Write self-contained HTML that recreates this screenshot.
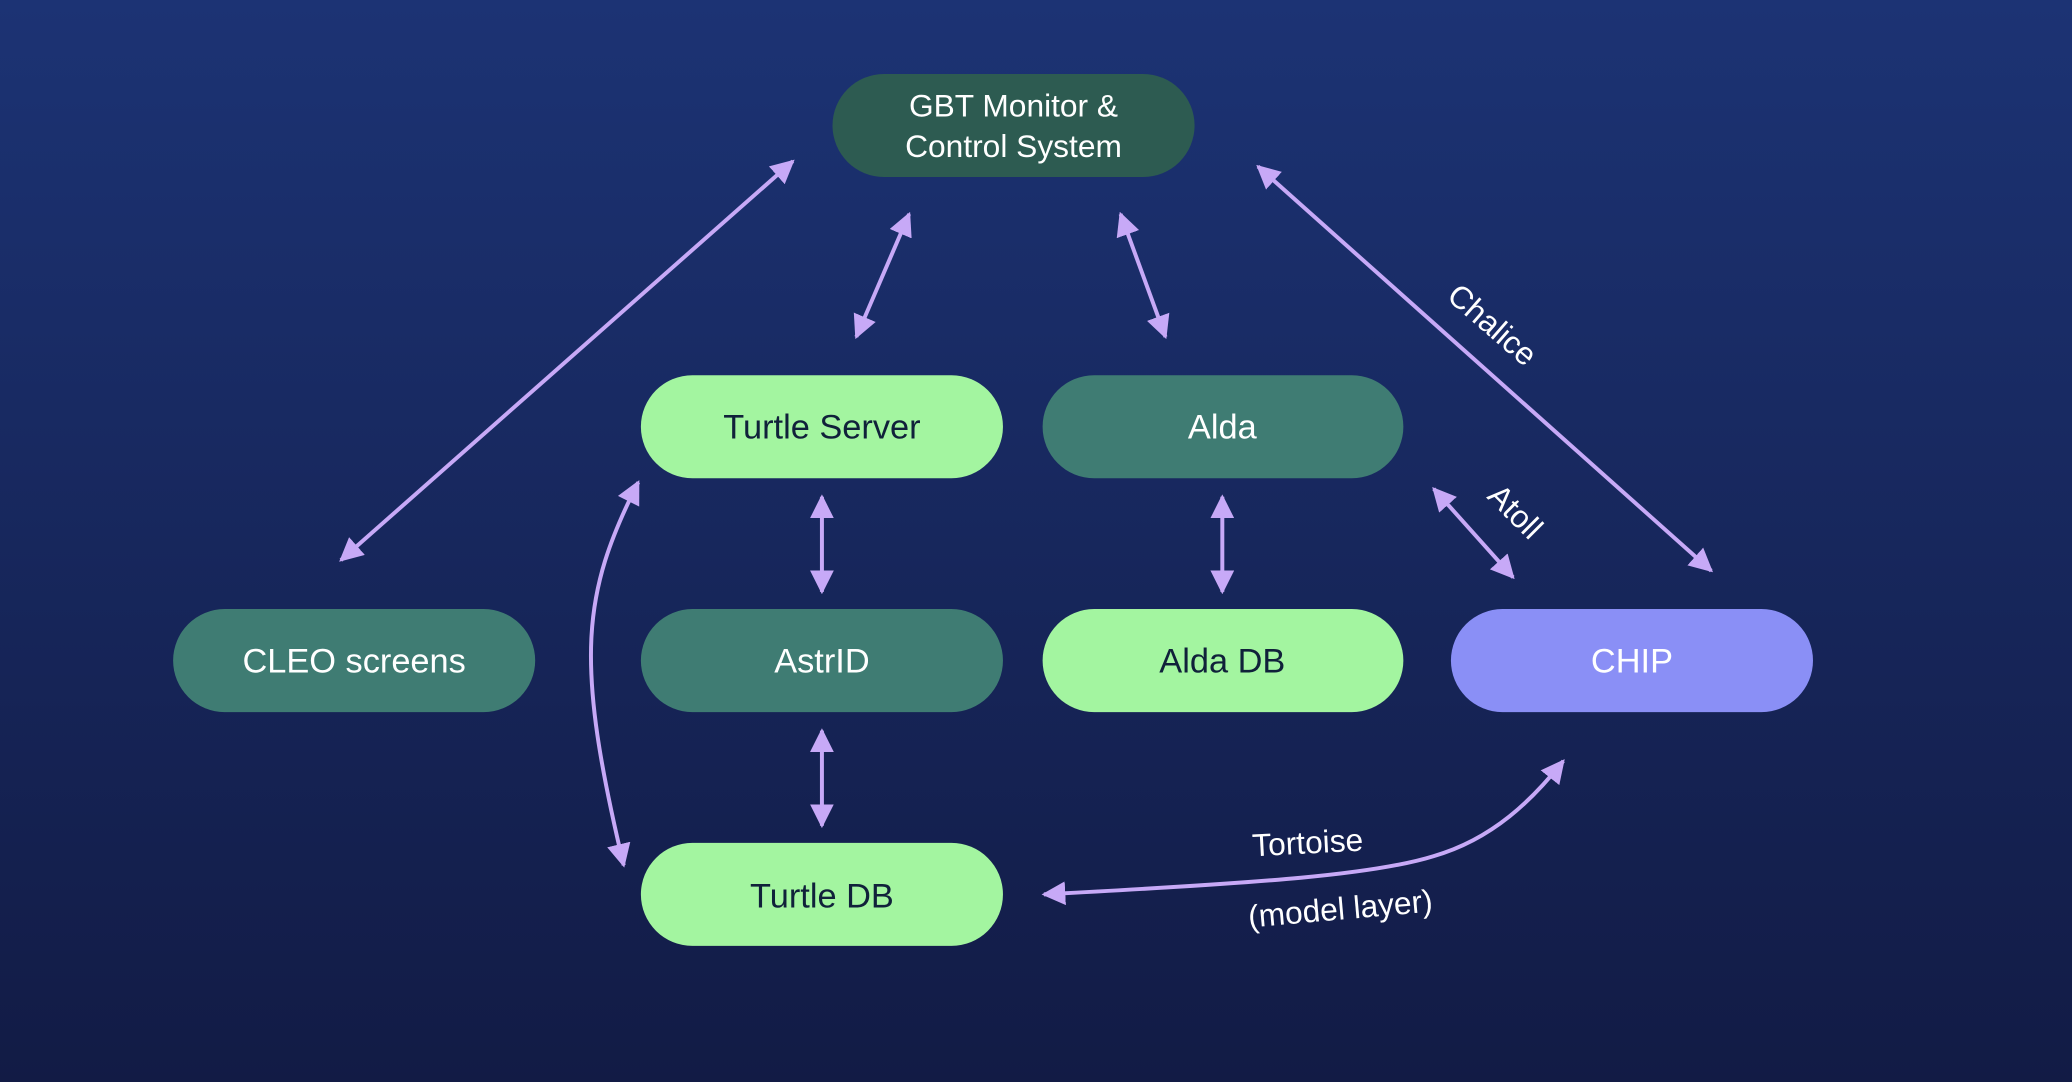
<!DOCTYPE html>
<html><head><meta charset="utf-8"><style>
html,body{margin:0;padding:0;width:2072px;height:1082px;overflow:hidden}
svg{display:block}
text{font-family:"Liberation Sans",sans-serif}
</style></head><body>
<svg width="2072" height="1082" viewBox="0 0 1568 819" preserveAspectRatio="none" xmlns="http://www.w3.org/2000/svg">
<defs>
<linearGradient id="bg" x1="0" y1="0" x2="0" y2="1">
<stop offset="0" stop-color="#1c3374"/><stop offset="1" stop-color="#121b45"/>
</linearGradient>
<marker id="a" viewBox="0 0 10 10" refX="9" refY="5" markerWidth="6" markerHeight="6" orient="auto-start-reverse" markerUnits="strokeWidth">
<path d="M0,0 L10,5 L0,10 z" fill="#c7a9f7"/>
</marker>
</defs>
<rect width="1568" height="819" fill="url(#bg)"/>
<g stroke="#c7a9f7" stroke-width="3" fill="none" marker-start="url(#a)" marker-end="url(#a)">
<line x1="258" y1="424" x2="600" y2="122"/>
<line x1="648" y1="255" x2="688" y2="162"/>
<line x1="848" y1="162" x2="882" y2="255"/>
<line x1="952" y1="126" x2="1295" y2="432"/>
<line x1="1085" y1="370" x2="1145" y2="437"/>
<line x1="622" y1="376" x2="622" y2="448"/>
<line x1="925" y1="376" x2="925" y2="448"/>
<line x1="622" y1="553" x2="622" y2="625"/>
<path d="M483,365 C440,450 435,500 472,655"/>
<path d="M790,677 C960,668 1040,662 1085,648 C1130,635 1160,605 1183,576"/>
</g>
<g font-size="26" text-anchor="middle">
<rect x="630" y="56" width="274" height="78" rx="39" fill="#2d5b51"/>
<text x="767" y="88" fill="#fff" font-size="24">GBT Monitor &amp;</text>
<text x="767" y="119" fill="#fff" font-size="24">Control System</text>
<rect x="485" y="284" width="274" height="78" rx="39" fill="#a3f5a0"/>
<text x="622" y="332" fill="#10213a">Turtle Server</text>
<rect x="789" y="284" width="273" height="78" rx="39" fill="#3f7c73"/>
<text x="925" y="332" fill="#fff">Alda</text>
<rect x="131" y="461" width="274" height="78" rx="39" fill="#3f7c73"/>
<text x="268" y="509" fill="#fff">CLEO screens</text>
<rect x="485" y="461" width="274" height="78" rx="39" fill="#3f7c73"/>
<text x="622" y="509" fill="#fff">AstrID</text>
<rect x="789" y="461" width="273" height="78" rx="39" fill="#a3f5a0"/>
<text x="925" y="509" fill="#10213a">Alda DB</text>
<rect x="1098" y="461" width="274" height="78" rx="39" fill="#8a8ff6"/>
<text x="1235" y="509" fill="#fff">CHIP</text>
<rect x="485" y="638" width="274" height="78" rx="39" fill="#a3f5a0"/>
<text x="622" y="687" fill="#10213a">Turtle DB</text>
</g>
<g fill="#fff" font-size="24" text-anchor="middle">
<text transform="translate(1124,252) rotate(41)">Chalice</text>
<text transform="translate(1141,393) rotate(45)">Atoll</text>
<text transform="translate(990,646) rotate(-3)">Tortoise</text>
<text transform="translate(1015,696) rotate(-5)">(model layer)</text>
</g>
</svg>
</body></html>
